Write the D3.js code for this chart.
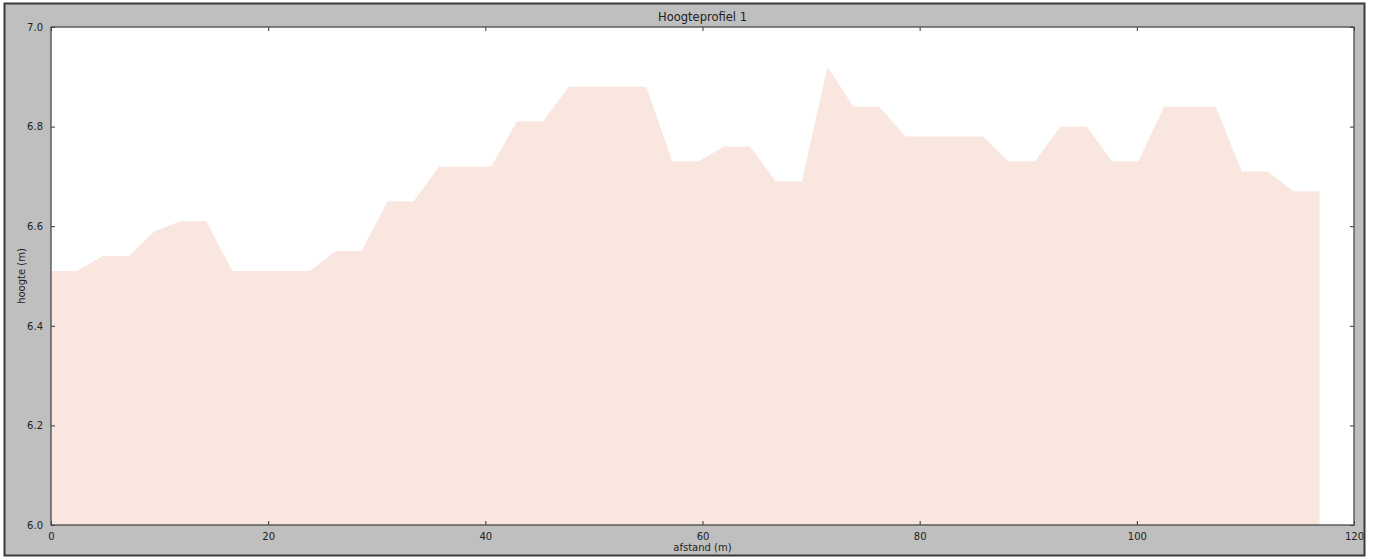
<!DOCTYPE html>
<html>
<head>
<meta charset="utf-8">
<script src="https://cdn.jsdelivr.net/npm/d3@7"></script>
<style>
  html, body { margin: 0; padding: 0; background: #ffffff; }
  svg { display: block; }
  text { font-family: "DejaVu Sans", sans-serif; }
</style>
</head>
<body>
<svg id="chart" width="1379" height="558"></svg>
<script>
// ---- data ----
const title = "Hoogteprofiel 1";
const xLabel = "afstand (m)";
const yLabel = "hoogte (m)";
const distances = [0, 2.38, 4.77, 7.15, 9.54, 11.92, 14.30, 16.69, 19.07, 21.46,
  23.84, 26.22, 28.61, 30.99, 33.38, 35.76, 38.14, 40.53, 42.91, 45.30,
  47.68, 50.06, 52.45, 54.83, 57.22, 59.60, 61.98, 64.37, 66.75, 69.14,
  71.52, 73.90, 76.29, 78.67, 81.06, 83.44, 85.82, 88.21, 90.59, 92.98,
  95.36, 97.74, 100.13, 102.51, 104.90, 107.28, 109.66, 112.05, 114.43, 116.82];
const heights = [6.51, 6.51, 6.54, 6.54, 6.59, 6.61, 6.61, 6.51, 6.51, 6.51,
  6.51, 6.55, 6.55, 6.65, 6.65, 6.72, 6.72, 6.72, 6.81, 6.81,
  6.88, 6.88, 6.88, 6.88, 6.73, 6.73, 6.76, 6.76, 6.69, 6.69,
  6.92, 6.84, 6.84, 6.78, 6.78, 6.78, 6.78, 6.73, 6.73, 6.80,
  6.80, 6.73, 6.73, 6.84, 6.84, 6.84, 6.71, 6.71, 6.67, 6.67];
const xTicks = [0, 20, 40, 60, 80, 100, 120];
const yTicks = [6.0, 6.2, 6.4, 6.6, 6.8, 7.0];

// ---- layout ----
const svg = d3.select("#chart");
const mLeft = 51, mRight = 1354, mTop = 27, mBottom = 525;

// figure background with border
svg.append("rect").attr("x", 4.5).attr("y", 3.5).attr("width", 1360).attr("height", 552)
  .attr("fill", "#bfbfbf").attr("stroke", "#3a3a3a").attr("stroke-width", 2);

const x = d3.scaleLinear().domain([0, 120]).range([mLeft, mRight]);
const y = d3.scaleLinear().domain([6.0, 7.0]).range([mBottom, mTop]);

// axes background
svg.append("rect").attr("x", mLeft).attr("y", mTop)
  .attr("width", mRight - mLeft).attr("height", mBottom - mTop).attr("fill", "#ffffff");

// clip
svg.append("clipPath").attr("id", "clip").append("rect")
  .attr("x", mLeft).attr("y", mTop).attr("width", mRight - mLeft).attr("height", mBottom - mTop);

const pts = distances.map((d, i) => ({ d: d, h: heights[i] }));
const area = d3.area().x(p => x(p.d)).y0(y(6.0)).y1(p => y(p.h));
svg.append("path").datum(pts).attr("d", area)
  .attr("fill", "#f9e6df").attr("clip-path", "url(#clip)");

// axes with inward ticks on all four sides
const fmtY = d3.format(".1f");
const tickColor = "#333";
const bAxis = d3.axisBottom(x).tickValues(xTicks).tickSizeInner(-4).tickSizeOuter(0).tickPadding(8).tickFormat(d3.format("d"));
const tAxis = d3.axisTop(x).tickValues(xTicks).tickSizeInner(-4).tickSizeOuter(0).tickFormat("");
const lAxis = d3.axisLeft(y).tickValues(yTicks).tickSizeInner(-4).tickSizeOuter(0).tickPadding(8).tickFormat(fmtY);
const rAxis = d3.axisRight(y).tickValues(yTicks).tickSizeInner(-4).tickSizeOuter(0).tickFormat("");

function style(g) {
  g.select(".domain").remove();
  g.selectAll(".tick line").attr("stroke", tickColor).attr("stroke-width", 1);
  g.selectAll(".tick text").attr("fill", "#222").attr("font-size", 10);
}
svg.append("g").attr("transform", `translate(0,${mBottom})`).call(bAxis).call(style);
svg.append("g").attr("transform", `translate(0,${mTop})`).call(tAxis).call(style);
svg.append("g").attr("transform", `translate(${mLeft},0)`).call(lAxis).call(style);
svg.append("g").attr("transform", `translate(${mRight},0)`).call(rAxis).call(style);

// spines
svg.append("rect").attr("x", mLeft).attr("y", mTop)
  .attr("width", mRight - mLeft).attr("height", mBottom - mTop)
  .attr("fill", "none").attr("stroke", "#4a4a4a").attr("stroke-width", 1.3);

// title and labels
svg.append("text").attr("x", (mLeft + mRight) / 2).attr("y", 21)
  .attr("text-anchor", "middle").attr("font-size", 11.5).attr("fill", "#222").text(title);
svg.append("text").attr("x", (mLeft + mRight) / 2).attr("y", 551)
  .attr("text-anchor", "middle").attr("font-size", 10).attr("fill", "#222").text(xLabel);
svg.append("text").attr("transform", `translate(25,${(mTop + mBottom) / 2}) rotate(-90)`)
  .attr("text-anchor", "middle").attr("font-size", 10).attr("fill", "#222").text(yLabel);
</script>
</body>
</html>
